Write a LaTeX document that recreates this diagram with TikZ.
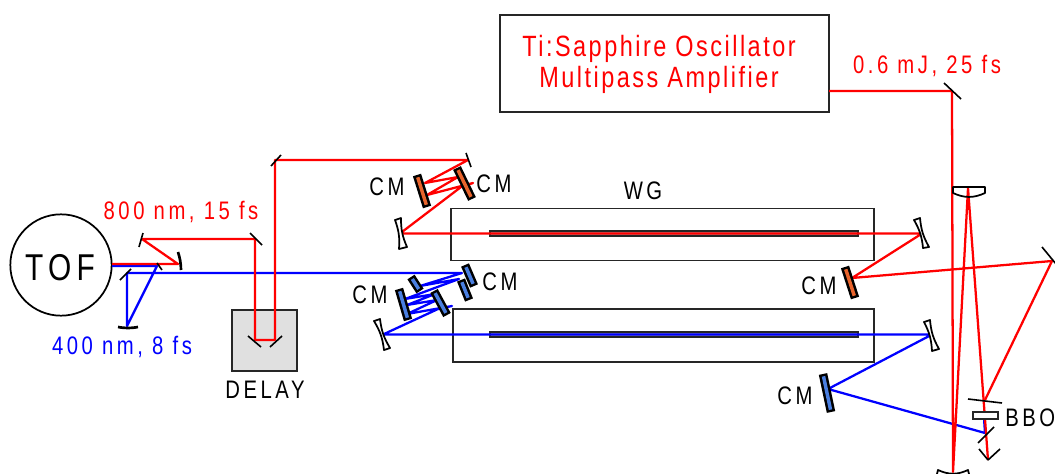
\documentclass[tikz,border=0pt]{standalone}
\usepackage{fontspec}
\setmainfont{Liberation Sans}[FakeStretch=0.8,LetterSpace=14]
\usepackage{xcolor}

\tikzset{
    beamred/.style={draw=red,line width=1.7pt,line join=round},
    beamblue/.style={draw=blue,line width=1.7pt,line join=round},
    flat/.style={draw=black,line width=1.2pt},
    box/.style={draw=black!85,line width=1.3pt,rectangle,inner sep=0pt,outer sep=0pt},
    bigtext/.style={font=\fontsize{22}{23.2}\selectfont\addfontfeature{LetterSpace=8.5},align=center,inner sep=0pt},
    tag/.style={font=\fontsize{19}{20}\selectfont,inner sep=0pt},
    curved/.style={draw=black,line width=1.3pt,fill=white,line join=round},
}

\begin{document}
\begin{tikzpicture}[x=0.75pt,y=-0.75pt]
    \definecolor{CmOrange}{HTML}{E8642C}
    \definecolor{CmBlue}{HTML}{4A7FE0}
    \clip (0,0) rectangle (1055,474);
    \fill[white] (0,0) rectangle (1055,474);

    % boxes
    \node[box,minimum width=246.8pt,minimum height=72.8pt] (osc) at (664.5,63.5) {};
    \node[box,minimum width=317.2pt,minimum height=39pt] (wgtop) at (662.5,234.5) {};
    \node[box,minimum width=315.8pt,minimum height=39.8pt] (wgbot) at (663.5,335.5) {};
    \node[box,line width=1.5pt,fill=black!40,minimum width=276pt,minimum height=3.6pt] (captop) at (674,233.5) {};
    \node[box,line width=1.5pt,fill=black!40,minimum width=276pt,minimum height=3.6pt] (capbot) at (674,334.5) {};
    \node[box,fill=black!12,minimum width=48.8pt,minimum height=45.8pt] (delay) at (264.5,340.5) {};
    \node[draw=black,line width=1.3pt,circle,minimum size=76pt,inner sep=0pt] (tof) at (61,265) {};

    % beam points
    \foreach \pt/\x/\y in {a/829/91,b/952/91,c/953/472,d/968/188,e/988/460,f/985/400,g/1052/261,
        h/852/278,i/922/233.5,j/400/233.5,k/461/187,l/427/195,m/473/183,n/458/177,o/425/183,p/468/160,
        q/275/160,r/275/340,s/255/340,t/255/239,u/142/239,v/178/264,w/112/264}{
        \coordinate (\pt) at (\x,\y);
    }
    \foreach \pt/\x/\y in {a/112/266,b/157/266,c/127/326,d/127/273,e/462/273,f/420/286,g/459/279,
        h/405/299,i/435/294,j/407/305,k/437/300,l/407/314,m/452/306,n/438/309,o/383/334.5,
        p/932/334.5,q/828/389,r/985/433,s/984/418}{
        \coordinate (B\pt) at (\x,\y);
    }

    % blue beam
    \draw[beamblue] (Ba)--(Bb)--(Bc)--(Bd)--(Be)--(Bf)--(Bg)--(Bh)--(Bi)--(Bj)--(Bk)--(Bl)--(Bm)--(Bn)--(Bo)--(Bp)--(Bq)--(Br)--(Bs);

    % red beam
    \draw[beamred] (a)--(b)--(c)--(d)--(e);
    \draw[beamred] (f)--(g)--(h)--(i)--(j)--(k)--(m)--(l)--(n)--(o)--(p)--(q)--(r)--(s)--(t)--(u)--(v)--(w);

    % chirped mirrors
    \foreach \ax/\ay/\bx/\by/\cm in {417/175/427/207/CmOrange,457/168/472/199/CmOrange,845/267/855/298/CmOrange,
        465/265/474/286/CmBlue,411/277/420/291/CmBlue,461/280/469/300/CmBlue,399/289/408/320/CmBlue,
        434/291/447/315/CmBlue,823/374/831/412/CmBlue}{
        \draw[line width=6.4pt,black] (\ax,\ay)--(\bx,\by);
        \draw[line width=2.6pt,\cm,shorten >=1.8pt,shorten <=1.8pt] (\ax,\ay)--(\bx,\by);
    }

    % curved mirrors
    \foreach \ax/\ay/\bx/\by/\cx/\cy/\dx/\dy in {395/220/401/218/407/247/399/249,
        374/321/380/319/390/348/384/350,914/220/920/218/929/247/923/248,924/322/930/320/939/349/932/351}{
        \draw[curved] (\ax,\ay)--(\bx,\by) to[bend right=12] (\cx,\cy)--(\dx,\dy) to[bend right=12] cycle;
    }

    % flat mirrors
    \foreach \ax/\ay/\bx/\by in {944/83/961/99,466/153/471/167,271/166/281/155,250/233/262/245,143/233/139/247,
        157/263/162/270,120/280/131/269,248/336/261/347,282/336/270/347,1042/247/1056/264,968/399/1002/403,978/443/994/427,
        979/449/988/460,988/460/1000/449}{
        \draw[flat] (\ax,\ay)--(\bx,\by);
    }
    \draw[line width=2pt,black] (178,252) to[bend left=8] (181,270);
    \draw[line width=2pt,black] (118,327) to[bend right=10] (138,327);

    % lenses
    \draw[curved,fill=none] (953,187)--(985,187)--(985,193) to[bend left=25] (953,193)--cycle;
    \draw[curved,fill=none] (937,474)--(938,470) to[bend right=25] (968,470)--(969,474);
    \node[box,fill=white,minimum width=18.8pt,minimum height=5.2pt] (bbo) at (985.5,415.5) {};

    % labels
    \node[bigtext,text=red] (osctext) at (659,64) {Ti:Sapphire Oscillator\\Multipass Amplifier};
    \node[tag,text=red] (pump) at (927,66) {0.6 mJ, 25 fs};
    \node[tag,text=red] (red) at (181,212) {800 nm, 15 fs};
    \node[tag,text=blue] (blue) at (122,347) {400 nm, 8 fs};
    \node[font=\fontsize{28}{30}\selectfont,inner sep=0pt] (toftext) at (60,268) {TOF};
    \node[tag] (delaytext) at (265,390) {DELAY};
    \node[tag] (wgtext) at (643,191) {WG};
    \node[tag] (cma) at (387,187) {CM};
    \node[tag] (cmb) at (494,184) {CM};
    \node[tag] (cmc) at (370,295) {CM};
    \node[tag] (cmd) at (500,282) {CM};
    \node[tag] (cme) at (819,286) {CM};
    \node[tag] (cmf) at (795,396) {CM};
    \node[tag,anchor=west] (bbotext) at (1005,418) {BBO};
\end{tikzpicture}
\end{document}
